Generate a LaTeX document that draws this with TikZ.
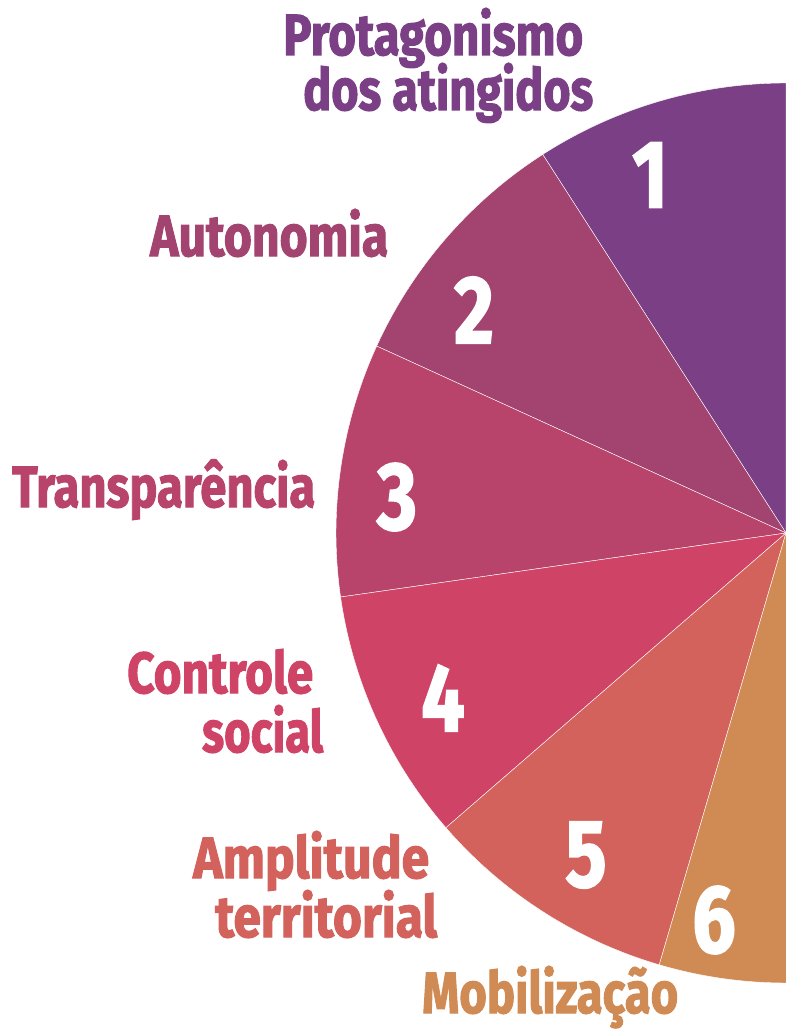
\documentclass[tikz,border=0pt]{standalone}
\usepackage{fontspec}
\setmainfont{Fira Sans}[BoldFeatures={FakeBold=2}]
\usepackage{graphicx}
\definecolor{c1}{HTML}{7B3F85}
\definecolor{c2}{HTML}{A3436F}
\definecolor{c3}{HTML}{B8436B}
\definecolor{c4}{HTML}{CF4466}
\definecolor{c5}{HTML}{D2625B}
\definecolor{c6}{HTML}{D08A54}
\newcommand\fitw[2]{\resizebox{#1}{\height}{#2}}
\begin{document}
\begin{tikzpicture}[x=1pt,y=-1pt,
  lab/.style={anchor=base west, inner sep=0pt, font=\fontsize{58}{60}\selectfont\bfseries},
  num/.style={text=white, inner sep=0pt, font=\fontsize{96}{96}\selectfont\bfseries},
  slice/.style={draw=white, line width=0.4pt}]
\useasboundingbox (0,0) rectangle (786,1030);
\clip (0,0) rectangle (786,1030);
\coordinate (O) at (786,533);
\begin{scope}[shift={(786,533)}, y=1pt]
  \fill[c1, slice] (0,0) -- (90:450) arc[start angle=90, end angle=122.727, radius=450] -- cycle;
  \fill[c2, slice] (0,0) -- (122.727:450) arc[start angle=122.727, end angle=155.455, radius=450] -- cycle;
  \fill[c3, slice] (0,0) -- (155.455:450) arc[start angle=155.455, end angle=188.182, radius=450] -- cycle;
  \fill[c4, slice] (0,0) -- (188.182:450) arc[start angle=188.182, end angle=220.909, radius=450] -- cycle;
  \fill[c5, slice] (0,0) -- (220.909:450) arc[start angle=220.909, end angle=253.636, radius=450] -- cycle;
  \fill[c6, slice] (0,0) -- (253.636:450) arc[start angle=253.636, end angle=286.364, radius=450] -- cycle;
\end{scope}
\node[num] (n1) at (650,175) {\scalebox{0.8}[1]{1}};
\node[num] (n2) at (474,310) {\scalebox{0.8}[1]{2}};
\node[num] (n3) at (397,497) {\scalebox{0.8}[1]{3}};
\node[num] (n4) at (443,698) {\scalebox{0.8}[1]{4}};
\node[num] (n5) at (586,855) {\scalebox{0.8}[1]{5}};
\node[num] (n6) at (714,920) {\scalebox{0.8}[1]{6}};
\node[lab, text=c1] (l1a) at (283,55) {\fitw{300pt}{Protagonismo}};
\node[lab, text=c1] (l1b) at (303,110) {\fitw{290pt}{dos atingidos}};
\node[lab, text=c2] (l2) at (150,256) {\fitw{238pt}{Autonomia}};
\node[lab, text=c3] (l3) at (12,507) {\fitw{303pt}{Transparência}};
\node[lab, text=c4] (l4a) at (127,693) {\fitw{186pt}{Controle}};
\node[lab, text=c4] (l4b) at (202,752) {\fitw{121pt}{social}};
\node[lab, text=c5] (l5a) at (193,878) {\fitw{236pt}{Amplitude}};
\node[lab, text=c5] (l5b) at (215,937) {\fitw{222pt}{territorial}};
\node[lab, text=c6] (l6) at (422,1013) {\fitw{256pt}{Mobilização}};
\end{tikzpicture}
\end{document}
